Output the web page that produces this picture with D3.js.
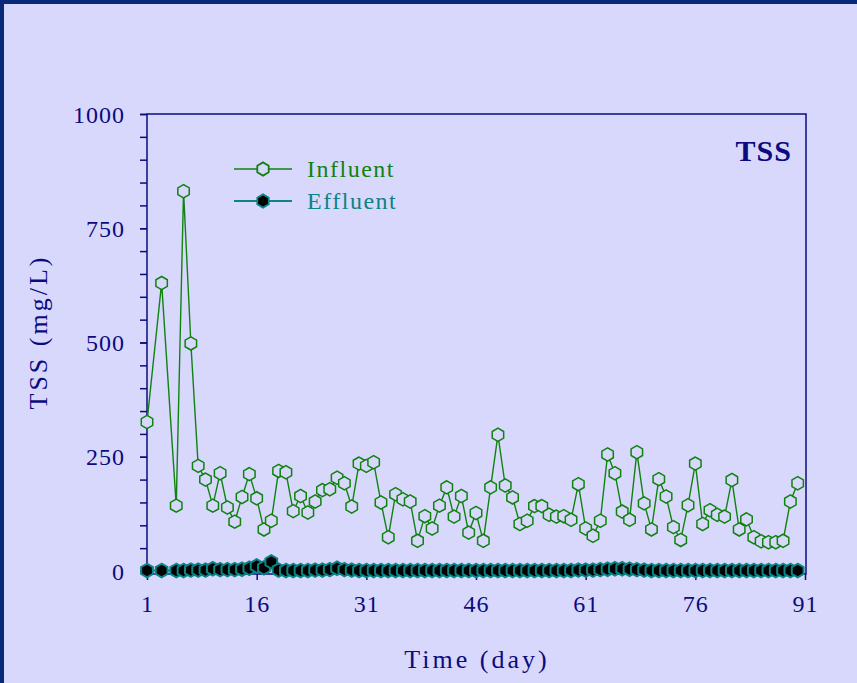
<!DOCTYPE html>
<html>
<head>
<meta charset="utf-8">
<script src="https://cdn.jsdelivr.net/npm/d3@7"></script>
<style>
  html, body { margin: 0; padding: 0; background: #d8d8fc; }
  svg { display: block; }
  svg text { font-family: "Liberation Serif", "Times New Roman", Times, serif; }
</style>
</head>
<body>
<script>
// Sampling days (day 2 and day 4 were not sampled)
const days = [1, 3, 5, 6, 7, 8, 9, 10, 11, 12, 13, 14, 15, 16, 17, 18, 19, 20,
  21, 22, 23, 24, 25, 26, 27, 28, 29, 30, 31, 32, 33, 34, 35, 36, 37, 38, 39, 40,
  41, 42, 43, 44, 45, 46, 47, 48, 49, 50, 51, 52, 53, 54, 55, 56, 57, 58, 59, 60,
  61, 62, 63, 64, 65, 66, 67, 68, 69, 70, 71, 72, 73, 74, 75, 76, 77, 78, 79, 80,
  81, 82, 83, 84, 85, 86, 87, 88, 89, 90];

// Influent TSS, mg/L
const influent = [326, 630, 143, 831, 498, 230, 200, 143, 214, 139, 108, 162, 212, 159, 91, 110, 219, 216,
  131, 164, 128, 152, 177, 179, 204, 192, 141, 235, 230, 238, 150, 74, 168, 157, 152, 66, 120, 93,
  143, 183, 119, 164, 84, 127, 66, 183, 298, 187, 161, 103, 110, 142, 142, 123, 119, 120, 112, 190,
  93, 77, 110, 255, 214, 130, 112, 260, 148, 91, 201, 163, 96, 68, 144, 235, 103, 133, 123, 119,
  199, 91, 113, 74, 65, 63, 63, 66, 152, 192];

// Effluent TSS, mg/L
const effluent = [1, 1, 1, 1, 2, 2, 2, 5, 3, 3, 3, 4, 6, 11, 7, 20, 2, 1,
  1, 1, 1, 2, 2, 3, 6, 3, 2, 1, 1, 1, 1, 1, 1, 1, 1, 1, 1, 1,
  1, 1, 1, 1, 1, 1, 1, 1, 1, 1, 1, 1, 1, 1, 1, 1, 1, 1, 1, 2,
  2, 2, 3, 4, 5, 5, 4, 3, 2, 1, 1, 1, 1, 1, 1, 1, 1, 1, 1, 1,
  1, 1, 1, 1, 1, 1, 1, 1, 1, 1];

const xTicks = [1, 16, 31, 46, 61, 76, 91];
const yTicks = [0, 250, 500, 750, 1000];
const yMinorTicks = d3.range(0, 1001, 50);

const W = 857, H = 683;
const BG = "#d8d8fc";
const NAVY = "#0b0b7e";
const GREEN = "#0f820f";
const TEAL = "#0a8484";

const svg = d3.select("body").append("svg").attr("width", W).attr("height", H);

// page background and frame
svg.append("rect").attr("width", W).attr("height", H).attr("fill", BG);
svg.append("rect").attr("x", 0).attr("y", 0).attr("width", W).attr("height", 4).attr("fill", "#062a78");
svg.append("rect").attr("x", 0).attr("y", 0).attr("width", 4).attr("height", H).attr("fill", "#062a78");

const plot = { left: 147, right: 806, top: 114, bottom: 574 };
const x = d3.scaleLinear().domain([1, 91]).range([147, 805]);
const y = d3.scaleLinear().domain([0, 1000]).range([571, 114]);

// plot frame
svg.append("rect")
  .attr("x", plot.left).attr("y", plot.top)
  .attr("width", plot.right - plot.left).attr("height", plot.bottom - plot.top)
  .attr("fill", "none").attr("stroke", NAVY).attr("stroke-width", 1.5);

// left axis: minor ticks every 50, labels every 250
const yAxisMinor = d3.axisLeft(y).tickValues(yMinorTicks).tickSize(7).tickFormat("");
svg.append("g").attr("transform", `translate(${plot.left},0)`).call(yAxisMinor)
  .call(g => g.select(".domain").remove())
  .call(g => g.selectAll("line").attr("stroke", NAVY).attr("stroke-width", 1.5));

const yAxis = d3.axisLeft(y).tickValues(yTicks).tickSize(7).tickPadding(15).tickFormat(d3.format("d"));
svg.append("g").attr("transform", `translate(${plot.left},0)`).call(yAxis)
  .call(g => g.select(".domain").remove())
  .call(g => g.selectAll("line").attr("stroke", NAVY).attr("stroke-width", 1.5))
  .call(g => g.selectAll("text").attr("fill", NAVY).attr("font-family", null)
    .attr("font-size", 24).attr("letter-spacing", 1).attr("dy", "0.34em"));

// bottom axis
const xAxis = d3.axisBottom(x).tickValues(xTicks).tickSize(6).tickPadding(15).tickFormat(d3.format("d"));
svg.append("g").attr("transform", `translate(0,${plot.bottom})`).call(xAxis)
  .call(g => g.select(".domain").remove())
  .call(g => g.selectAll("line").attr("stroke", NAVY).attr("stroke-width", 1.5))
  .call(g => g.selectAll("text").attr("fill", NAVY).attr("font-family", null)
    .attr("font-size", 24).attr("letter-spacing", 1));
svg.selectAll("g").attr("font-family", null);

// axis titles
svg.append("text").attr("x", 477).attr("y", 668).attr("text-anchor", "middle")
  .attr("fill", NAVY).attr("font-size", 26).attr("letter-spacing", 3)
  .text("Time (day)");
svg.append("text").attr("transform", "translate(47,332) rotate(-90)").attr("text-anchor", "middle")
  .attr("fill", NAVY).attr("font-size", 26).attr("letter-spacing", 3)
  .text("TSS (mg/L)");

// panel label
svg.append("text").attr("x", 792).attr("y", 161).attr("text-anchor", "end")
  .attr("fill", NAVY).attr("font-size", 30).attr("font-weight", "bold")
  .attr("letter-spacing", 1).text("TSS");

// hexagon marker, vertex pointing up
const hexPath = r => {
  const pts = d3.range(6).map(i => {
    const a = Math.PI / 2 + i * Math.PI / 3;
    return [r * Math.cos(a), -r * Math.sin(a)];
  });
  return "M" + pts.map(p => p.join(",")).join("L") + "Z";
};

const line = d3.line().x(d => x(d[0])).y(d => y(d[1]));
const infData = days.map((d, i) => [d, influent[i]]);
const effData = days.map((d, i) => [d, effluent[i]]);

// effluent series
svg.append("path").datum(effData).attr("d", line)
  .attr("fill", "none").attr("stroke", TEAL).attr("stroke-width", 2);
svg.append("g").selectAll("path").data(effData).join("path")
  .attr("transform", d => `translate(${x(d[0])},${y(d[1])})`)
  .attr("d", hexPath(6.8))
  .attr("fill", "#000").attr("stroke", TEAL).attr("stroke-width", 2);

// influent series
svg.append("path").datum(infData).attr("d", line)
  .attr("fill", "none").attr("stroke", GREEN).attr("stroke-width", 1.4);
svg.append("g").selectAll("path").data(infData).join("path")
  .attr("transform", d => `translate(${x(d[0])},${y(d[1])})`)
  .attr("d", hexPath(6.6))
  .attr("fill", BG).attr("stroke", GREEN).attr("stroke-width", 1.5);

// legend
const legend = [
  { name: "Influent", color: GREEN, fill: BG, sw: 1.4, y: 169 },
  { name: "Effluent", color: TEAL, fill: "#000", sw: 2, y: 201 }
];
const lg = svg.append("g");
legend.forEach(l => {
  lg.append("line").attr("x1", 234).attr("x2", 292).attr("y1", l.y).attr("y2", l.y)
    .attr("stroke", l.color).attr("stroke-width", l.sw);
  lg.append("path").attr("transform", `translate(263,${l.y})`).attr("d", hexPath(6.6))
    .attr("fill", l.fill).attr("stroke", l.color).attr("stroke-width", 1.8);
  lg.append("text").attr("x", 307).attr("y", l.y + 8)
    .attr("fill", l.color).attr("font-size", 24).attr("letter-spacing", 1.5)
    .text(l.name);
});
</script>
</body>
</html>
